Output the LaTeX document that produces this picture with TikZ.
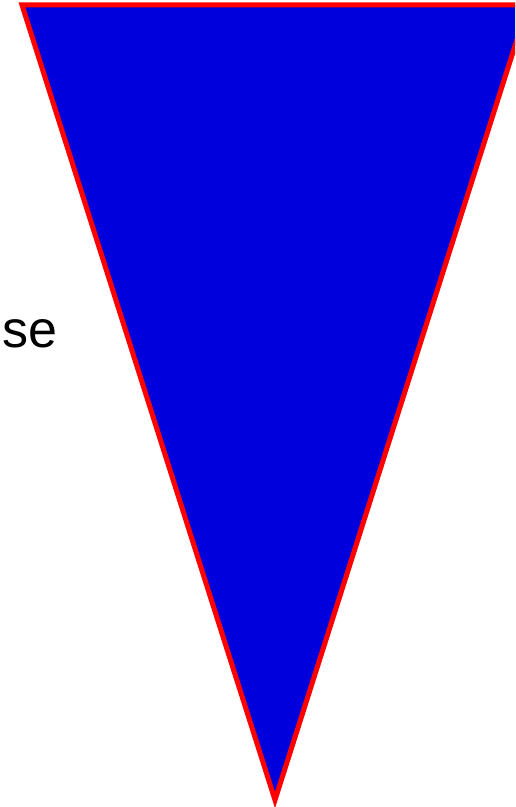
\documentclass[tikz,border=0pt]{standalone}
\usepackage{fontspec}
\setmainfont{Liberation Sans}
\definecolor{triblue}{RGB}{0,0,221}
\definecolor{trired}{RGB}{255,0,0}
\tikzset{tri/.style={fill=triblue,draw=trired,line width=5pt}}
\begin{document}
\begin{tikzpicture}[x=1pt,y=1pt]
\useasboundingbox (0,0) rectangle (515,807);
\clip (0,0) rectangle (515,807);
\coordinate (tl) at (22,802);
\coordinate (tr) at (528,802);
\coordinate (bt) at (275,7);
\draw[tri] (tl) -- (tr) -- (bt) -- cycle;
\node[anchor=base east,inner sep=0pt,font=\fontsize{52}{62}\selectfont] (lbl) at (58,459) {se};
\end{tikzpicture}
\end{document}
